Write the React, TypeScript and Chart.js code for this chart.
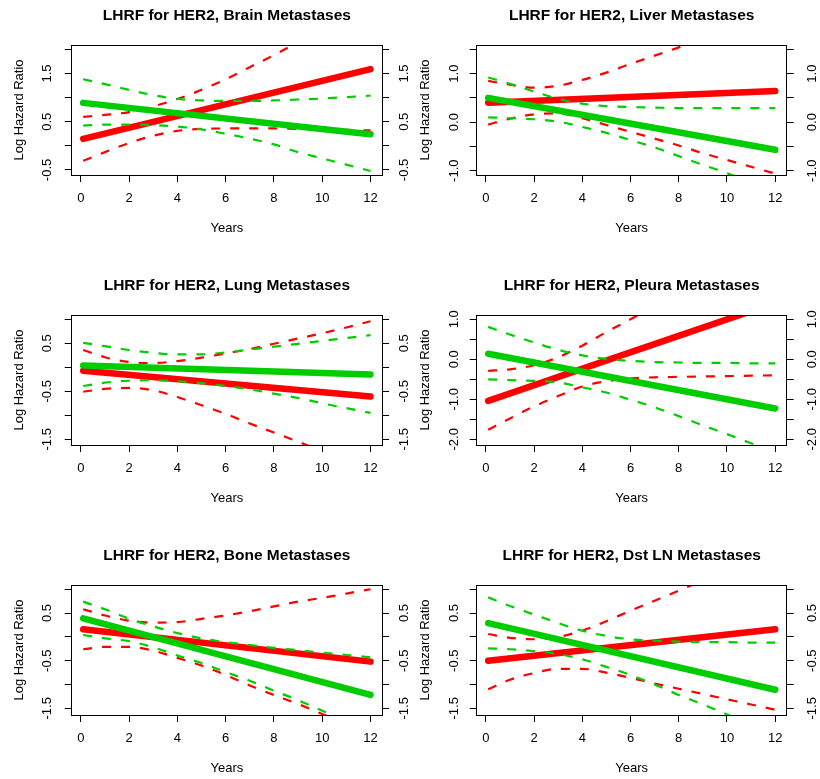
import React, { useEffect, useRef } from 'react';
import { Chart, registerables } from 'chart.js';

Chart.register(...registerables);

// ---------------- data ----------------
const YEARS = [0.1, 1, 2, 3, 4, 5, 6, 7, 8, 9, 10, 11, 12];
const FIT_YEARS = [0.1, 12];
const X_TICKS = [0, 2, 4, 6, 8, 10, 12];
const X_TICK_LABELS = ['0', '2', '4', '6', '8', '10', '12'];

const TITLES = [
  'LHRF for HER2, Brain Metastases',
  'LHRF for HER2, Liver Metastases',
  'LHRF for HER2, Lung Metastases',
  'LHRF for HER2, Pleura Metastases',
  'LHRF for HER2, Bone Metastases',
  'LHRF for HER2, Dst LN Metastases',
];

// Brain
const brainRedFit = [0.145, 1.59];
const brainRedUpper = [0.6, 0.64, 0.7, 0.82, 0.97, 1.16, 1.38, 1.63, 1.88, 2.15, 2.42, 2.7, 2.98];
const brainRedLower = [-0.31, -0.13, 0.06, 0.21, 0.31, 0.35, 0.36, 0.36, 0.36, 0.35, 0.34, 0.33, 0.32];
const brainGreenFit = [0.89, 0.24];
const brainGreenUpper = [1.38, 1.28, 1.16, 1.05, 0.97, 0.94, 0.93, 0.93, 0.94, 0.96, 0.98, 1.01, 1.04];
const brainGreenLower = [0.42, 0.44, 0.44, 0.43, 0.4, 0.34, 0.25, 0.15, 0.03, -0.13, -0.26, -0.39, -0.52];
const brainYTicks = [-0.5, 0, 0.5, 1, 1.5, 2];
const brainYLabels = ['-0.5', '', '0.5', '', '1.5', ''];

// Liver
const liverRedFit = [0.4, 0.64];
const liverRedUpper = [0.85, 0.77, 0.71, 0.75, 0.87, 1.02, 1.2, 1.37, 1.54, 1.74, 1.94, 2.14, 2.35];
const liverRedLower = [-0.05, 0.07, 0.16, 0.18, 0.08, -0.06, -0.2, -0.34, -0.48, -0.64, -0.78, -0.92, -1.06];
const liverGreenFit = [0.5, -0.57];
const liverGreenUpper = [0.92, 0.79, 0.63, 0.48, 0.38, 0.33, 0.31, 0.3, 0.29, 0.29, 0.29, 0.29, 0.29];
const liverGreenLower = [0.1, 0.08, 0.06, 0.01, -0.1, -0.22, -0.37, -0.52, -0.7, -0.88, -1.05, -1.24, -1.42];
const liverYTicks = [-1, -0.5, 0, 0.5, 1, 1.5];
const liverYLabels = ['-1.0', '', '0.0', '', '1.0', ''];

// Lung
const lungRedFit = [-0.07, -0.61];
const lungRedUpper = [0.36, 0.21, 0.11, 0.09, 0.13, 0.2, 0.29, 0.38, 0.49, 0.6, 0.71, 0.83, 0.96];
const lungRedLower = [-0.51, -0.45, -0.43, -0.48, -0.62, -0.79, -0.97, -1.17, -1.36, -1.55, -1.75, -1.95, -2.15];
const lungGreenFit = [0.04, -0.15];
const lungGreenUpper = [0.51, 0.44, 0.36, 0.3, 0.27, 0.27, 0.31, 0.37, 0.43, 0.49, 0.55, 0.61, 0.67];
const lungGreenLower = [-0.39, -0.32, -0.28, -0.27, -0.29, -0.33, -0.39, -0.46, -0.55, -0.64, -0.75, -0.85, -0.95];
const lungYTicks = [-1.5, -1, -0.5, 0, 0.5, 1];
const lungYLabels = ['-1.5', '', '-0.5', '', '0.5', ''];

// Pleura
const pleuraRedFit = [-1.04, 1.41];
const pleuraRedUpper = [-0.29, -0.25, -0.15, 0.05, 0.34, 0.68, 1.0, 1.33, 1.65, 1.97, 2.3, 2.62, 2.95];
const pleuraRedLower = [-1.76, -1.48, -1.18, -0.92, -0.68, -0.55, -0.48, -0.45, -0.44, -0.43, -0.42, -0.41, -0.4];
const pleuraGreenFit = [0.14, -1.23];
const pleuraGreenUpper = [0.81, 0.62, 0.42, 0.24, 0.1, 0.01, -0.04, -0.07, -0.08, -0.09, -0.09, -0.1, -0.1];
const pleuraGreenLower = [-0.5, -0.52, -0.54, -0.58, -0.7, -0.83, -1.01, -1.2, -1.42, -1.65, -1.87, -2.1, -2.33];
const pleuraYTicks = [-2, -1.5, -1, -0.5, 0, 0.5, 1];
const pleuraYLabels = ['-2.0', '', '-1.0', '', '0.0', '', '1.0'];

// Bone
const boneRedFit = [0.16, -0.52];
const boneRedUpper = [0.58, 0.45, 0.34, 0.3, 0.31, 0.38, 0.45, 0.54, 0.64, 0.74, 0.82, 0.91, 1.0];
const boneRedLower = [-0.26, -0.21, -0.21, -0.29, -0.44, -0.6, -0.8, -1.02, -1.22, -1.41, -1.62, -1.83, -2.04];
const boneGreenFit = [0.39, -1.22];
const boneGreenUpper = [0.74, 0.58, 0.38, 0.22, 0.08, -0.03, -0.11, -0.17, -0.23, -0.28, -0.33, -0.38, -0.43];
const boneGreenLower = [0.04, -0.03, -0.09, -0.22, -0.39, -0.55, -0.74, -0.92, -1.13, -1.33, -1.55, -1.77, -1.99];
const boneYTicks = [-1.5, -1, -0.5, 0, 0.5, 1];
const boneYLabels = ['-1.5', '', '-0.5', '', '0.5', ''];

// Dst LN
const dstRedFit = [-0.5, 0.16];
const dstRedUpper = [0.06, -0.02, -0.05, 0.0, 0.13, 0.33, 0.55, 0.76, 0.97, 1.19, 1.42, 1.65, 1.88];
const dstRedLower = [-1.1, -0.9, -0.76, -0.67, -0.67, -0.75, -0.86, -0.98, -1.09, -1.2, -1.31, -1.42, -1.53];
const dstGreenFit = [0.29, -1.11];
const dstGreenUpper = [0.83, 0.65, 0.47, 0.29, 0.13, 0.02, -0.05, -0.08, -0.1, -0.11, -0.11, -0.12, -0.12];
const dstGreenLower = [-0.24, -0.26, -0.3, -0.36, -0.47, -0.63, -0.8, -1.0, -1.22, -1.42, -1.63, -1.85, -2.07];
const dstYTicks = [-1.5, -1, -0.5, 0, 0.5, 1];
const dstYLabels = ['-1.5', '', '-0.5', '', '0.5', ''];

// axis ranges
const X_RANGE = [-0.376, 12.476];
const Y_RANGES = [
  [-0.604, 2.089],
  [-1.089, 1.589],
  [-1.619, 1.09],
  [-2.1425, 1.1075],
  [-1.641, 1.09],
  [-1.641, 1.09],
];

// ---------------- style / layout ----------------
const FONT = "'Liberation Sans', Arial, Helvetica, sans-serif";
const RED = '#FF0000';
const GREEN = '#00CD00';
const W = 410;
const H = 237;
const ROW_TOPS = [0, 270, 540];
const COLS = [
  { left: 0, plotLeft: 71.7, plotRight: 382, yTitlePad: 11.7, leftTickPad: 6.2, rightTickPad: 4.1 },
  { left: 410, plotLeft: 66.7, plotRight: 376.7, yTitlePad: 7.5, leftTickPad: 4.2, rightTickPad: 7.4 },
];

Chart.defaults.font.family = FONT;

type Panel = {
  title: string;
  range: number[];
  yTicks: number[];
  yLabels: string[];
  redFit: number[];
  redUpper: number[];
  redLower: number[];
  greenFit: number[];
  greenUpper: number[];
  greenLower: number[];
};

const PANELS: Panel[] = [
  { title: TITLES[0], range: Y_RANGES[0], yTicks: brainYTicks, yLabels: brainYLabels, redFit: brainRedFit, redUpper: brainRedUpper, redLower: brainRedLower, greenFit: brainGreenFit, greenUpper: brainGreenUpper, greenLower: brainGreenLower },
  { title: TITLES[1], range: Y_RANGES[1], yTicks: liverYTicks, yLabels: liverYLabels, redFit: liverRedFit, redUpper: liverRedUpper, redLower: liverRedLower, greenFit: liverGreenFit, greenUpper: liverGreenUpper, greenLower: liverGreenLower },
  { title: TITLES[2], range: Y_RANGES[2], yTicks: lungYTicks, yLabels: lungYLabels, redFit: lungRedFit, redUpper: lungRedUpper, redLower: lungRedLower, greenFit: lungGreenFit, greenUpper: lungGreenUpper, greenLower: lungGreenLower },
  { title: TITLES[3], range: Y_RANGES[3], yTicks: pleuraYTicks, yLabels: pleuraYLabels, redFit: pleuraRedFit, redUpper: pleuraRedUpper, redLower: pleuraRedLower, greenFit: pleuraGreenFit, greenUpper: pleuraGreenUpper, greenLower: pleuraGreenLower },
  { title: TITLES[4], range: Y_RANGES[4], yTicks: boneYTicks, yLabels: boneYLabels, redFit: boneRedFit, redUpper: boneRedUpper, redLower: boneRedLower, greenFit: boneGreenFit, greenUpper: boneGreenUpper, greenLower: boneGreenLower },
  { title: TITLES[5], range: Y_RANGES[5], yTicks: dstYTicks, yLabels: dstYLabels, redFit: dstRedFit, redUpper: dstRedUpper, redLower: dstRedLower, greenFit: dstGreenFit, greenUpper: dstGreenUpper, greenLower: dstGreenLower },
];

const align = (p: number) => Math.round(p - 0.5) + 0.5;

const boxPlugin = {
  id: 'plotBox',
  afterDraw(chart: any) {
    const { ctx, chartArea } = chart;
    const l = align(chartArea.left);
    const r = align(chartArea.right);
    const t = align(chartArea.top);
    const b = align(chartArea.bottom);
    ctx.save();
    ctx.strokeStyle = '#000';
    ctx.lineWidth = 1;
    ctx.strokeRect(l, t, r - l, b - t);
    ctx.restore();
  },
};

function line(label: string, xs: number[], ys: number[], color: string, dashed: boolean, order: number) {
  return {
    label,
    data: xs.map((x, i) => ({ x, y: ys[i] })),
    borderColor: color,
    backgroundColor: color,
    borderWidth: dashed ? 2.2 : 6.5,
    borderDash: dashed ? [9, 10] : [],
    borderCapStyle: dashed ? 'butt' : 'round',
    borderJoinStyle: 'round',
    pointRadius: 0,
    pointHoverRadius: 0,
    fill: false,
    clip: 0,
    cubicInterpolationMode: 'monotone',
    order,
  };
}

function makeConfig(p: Panel, col: typeof COLS[number]) {
  const tickFont = { family: FONT, size: 13 };
  const grid = { drawOnChartArea: false, drawTicks: true, tickLength: 7, tickColor: '#000', tickWidth: 1 };
  const border = { display: true, color: '#000', width: 1 };
  const yLabel = (v: number) => {
    const i = p.yTicks.indexOf(v);
    return i >= 0 ? p.yLabels[i] : '';
  };
  const setYTicks = (s: any) => {
    s.ticks = p.yTicks.map((v) => ({ value: v }));
  };
  return {
    type: 'line',
    data: {
      datasets: [
        line('red fit', FIT_YEARS, p.redFit, RED, false, 4),
        line('red upper', YEARS, p.redUpper, RED, true, 3),
        line('red lower', YEARS, p.redLower, RED, true, 3),
        line('green fit', FIT_YEARS, p.greenFit, GREEN, false, 2),
        line('green upper', YEARS, p.greenUpper, GREEN, true, 1),
        line('green lower', YEARS, p.greenLower, GREEN, true, 1),
      ],
    },
    options: {
      responsive: false,
      maintainAspectRatio: false,
      animation: false,
      events: [],
      layout: { padding: 0 },
      plugins: {
        legend: { display: false },
        tooltip: { enabled: false },
        title: {
          display: true,
          text: p.title,
          fullSize: false,
          color: '#000',
          font: { family: FONT, size: 15.5, weight: 'bold', lineHeight: 1.2 },
          padding: { top: 6.7, bottom: 19.7 },
        },
      },
      scales: {
        x: {
          type: 'linear',
          position: 'bottom',
          min: X_RANGE[0],
          max: X_RANGE[1],
          bounds: 'data',
          afterBuildTicks: (s: any) => {
            s.ticks = X_TICKS.map((v) => ({ value: v }));
          },
          afterFit: (s: any) => {
            s.height = 62;
          },
          grid,
          border,
          ticks: {
            autoSkip: false,
            minRotation: 0,
            maxRotation: 0,
            padding: 9,
            color: '#000',
            font: tickFont,
            callback: (v: number) => {
              const i = X_TICKS.indexOf(v);
              return i >= 0 ? X_TICK_LABELS[i] : '';
            },
          },
          title: { display: true, text: 'Years', color: '#000', font: { family: FONT, size: 13 }, padding: { top: 0, bottom: 1 } },
        },
        y: {
          type: 'linear',
          position: 'left',
          min: p.range[0],
          max: p.range[1],
          bounds: 'data',
          afterBuildTicks: setYTicks,
          afterFit: (s: any) => {
            s.width = col.plotLeft;
          },
          grid,
          border,
          ticks: {
            autoSkip: false,
            minRotation: 90,
            maxRotation: 90,
            crossAlign: 'center',
            padding: col.leftTickPad,
            color: '#000',
            font: tickFont,
            callback: yLabel,
          },
          title: {
            display: true,
            text: 'Log Hazard Ratio',
            color: '#000',
            font: { family: FONT, size: 13 },
            padding: { top: col.yTitlePad, bottom: 0 },
          },
        },
        y2: {
          type: 'linear',
          position: 'right',
          min: p.range[0],
          max: p.range[1],
          bounds: 'data',
          afterBuildTicks: setYTicks,
          afterFit: (s: any) => {
            s.width = W - col.plotRight;
          },
          grid,
          border,
          ticks: {
            autoSkip: false,
            minRotation: 90,
            maxRotation: 90,
            crossAlign: 'center',
            padding: col.rightTickPad,
            color: '#000',
            font: tickFont,
            callback: yLabel,
          },
        },
      },
    },
    plugins: [boxPlugin],
  };
}

function PanelChart({ index }: { index: number }) {
  const ref = useRef<HTMLCanvasElement>(null);
  const col = COLS[index % 2];
  const top = ROW_TOPS[Math.floor(index / 2)];
  useEffect(() => {
    const chart = new Chart(ref.current as HTMLCanvasElement, makeConfig(PANELS[index], col) as any);
    return () => chart.destroy();
  }, [index]);
  return (
    <canvas
      ref={ref}
      width={W}
      height={H}
      style={{ position: 'absolute', left: col.left, top, width: W, height: H }}
    />
  );
}

export default function App() {
  return (
    <div
      style={{
        position: 'fixed',
        left: 0,
        top: 0,
        width: 820,
        height: 779,
        background: '#fff',
        overflow: 'hidden',
      }}
    >
      {PANELS.map((_, i) => (
        <PanelChart key={i} index={i} />
      ))}
    </div>
  );
}
